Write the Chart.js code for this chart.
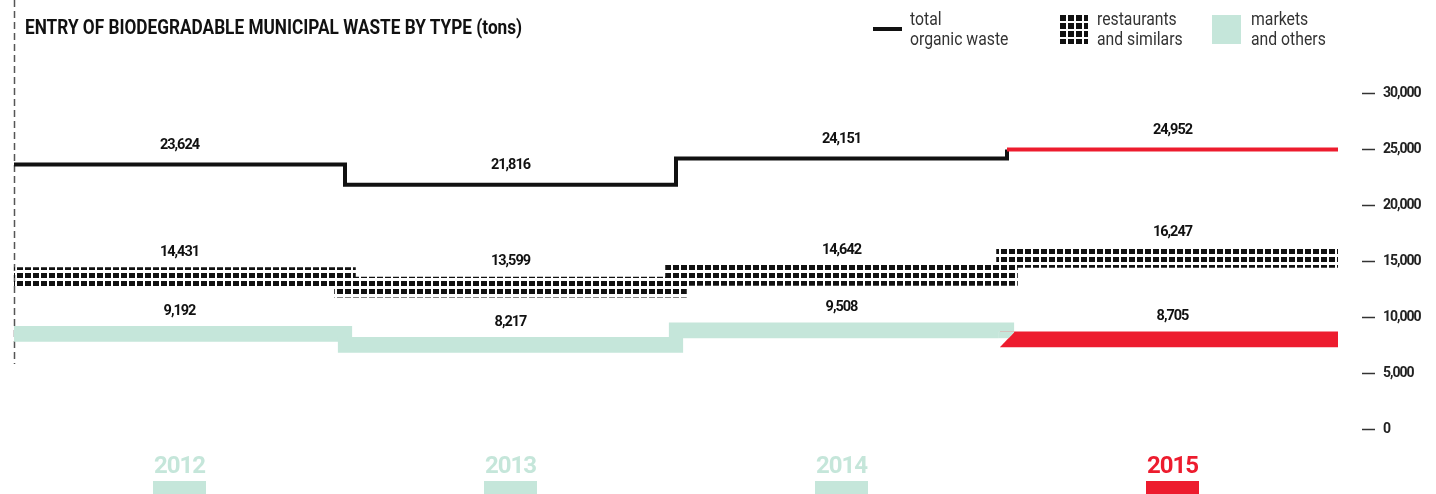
<!DOCTYPE html>
<html><head><meta charset="utf-8">
<script src="https://cdn.jsdelivr.net/npm/chart.js@4.4.1/dist/chart.umd.min.js"></script>
<style>
html,body{margin:0;padding:0;background:#fff;}
#wrap{position:relative;width:1436px;height:494px;overflow:hidden;font-family:Roboto,"Liberation Sans",sans-serif;}
canvas{position:absolute;left:0;top:0;}
.title{position:absolute;left:25px;top:17px;font-weight:bold;font-size:20px;line-height:21px;color:#111;white-space:nowrap;transform:scaleX(0.861);transform-origin:0 0;}
.lg{position:absolute;top:9px;font-size:19px;font-weight:400;line-height:20px;color:#333;white-space:nowrap;transform:scaleX(0.83);transform-origin:0 0;}
.ico{position:absolute;}
</style></head>
<body>
<div id="wrap">
<canvas id="c" width="1436" height="494"></canvas>
<div class="title">ENTRY OF BIODEGRADABLE MUNICIPAL WASTE BY TYPE (tons)</div>
<div class="ico" style="left:873px;top:27px;width:29px;height:4px;background:#111;"></div>
<div class="lg" style="left:910px;">total<br>organic waste</div>
<div class="ico" style="left:1060px;top:15px;width:28px;height:29px;background:linear-gradient(to right,transparent 0 6px,#fff 6px 8px) 0 0/8px 100%,linear-gradient(to bottom,transparent 0 6px,#fff 6px 8px) 0 0/100% 8px,#111;"></div>
<div class="lg" style="left:1097px;">restaurants<br>and similars</div>
<div class="ico" style="left:1212px;top:15px;width:29px;height:29px;background:#c5e6da;"></div>
<div class="lg" style="left:1251px;">markets<br>and others</div>
</div>
<script>
// ---- data ----
const years = ['2012', '2013', '2014', '2015'];
const totalOrganic = [23624, 21816, 24151, 24952];
const restaurants = [14431, 13599, 14642, 16247];
const markets = [9192, 8217, 9508, 8705];
const yTickValues = [0, 5000, 10000, 15000, 20000, 25000, 30000];

// ---- styles ----
const FONT = 'Roboto,"Liberation Sans",sans-serif';
const MINT = '#c5e6da';
const RED = '#ed1c2e';
const BLACK = '#111111';
const REST_BAND = 1850;   // band thickness (value units)
const MARK_BAND = 1400;

const fmt = v => Number(v).toLocaleString('en-US');

const cv = document.getElementById('c');
const ctx = cv.getContext('2d');

function squarePattern() {
  const t = document.createElement('canvas');
  t.width = 8; t.height = 8;
  const g = t.getContext('2d');
  g.fillStyle = BLACK;
  g.fillRect(1, 1, 6, 5);
  return ctx.createPattern(t, 'repeat');
}
const pat = squarePattern();

// step line points: one per year start + closing point at the end of the last year
const linePoints = totalOrganic.map((v, i) => ({x: i, y: v}));
linePoints.push({x: totalOrganic.length, y: totalOrganic[totalOrganic.length - 1]});

const decor = {
  id: 'decor',
  beforeDraw(chart) {
    chart.ctx.letterSpacing = '-1px';
  },
  beforeDatasetsDraw(chart) {
    const c = chart.ctx, a = chart.chartArea;
    c.save();
    c.strokeStyle = '#555';
    c.lineWidth = 1.5;
    c.setLineDash([7, 4]);
    c.beginPath();
    c.moveTo(a.left + 0.5, 0);
    c.lineTo(a.left + 0.5, 364);
    c.stroke();
    c.restore();
  },
  afterDatasetsDraw(chart) {
    const c = chart.ctx;
    // slanted start of the last markets band
    const mm = chart.getDatasetMeta(2);
    const r = mm.data[mm.data.length - 1], prev = mm.data[mm.data.length - 2];
    const left = r.x - r.width / 2, top = Math.min(r.y, r.base), bot = Math.max(r.y, r.base);
    const slant = 15;
    c.save();
    c.beginPath();
    c.moveTo(left - 1, top); c.lineTo(left + slant, top); c.lineTo(left - 1, bot + 1); c.closePath();
    c.clip();
    c.fillStyle = '#fff';
    c.fillRect(left - 2, top, slant + 2, bot - top + 2);
    c.fillStyle = MINT;
    c.fillRect(prev.x - prev.width / 2, Math.min(prev.y, prev.base), prev.width, Math.abs(prev.base - prev.y));
    c.restore();

    c.save();
    c.font = 'bold 14.5px ' + FONT;
    c.fillStyle = BLACK;
    c.textAlign = 'center';
    c.textBaseline = 'middle';
    // total line labels
    const lm = chart.getDatasetMeta(0);
    for (let i = 0; i < totalOrganic.length; i++) {
      const p0 = lm.data[i], p1 = lm.data[i + 1];
      c.fillText(fmt(totalOrganic[i]), (p0.x + p1.x) / 2, p0.y - 19);
    }
    [[1, restaurants], [2, markets]].forEach(([di, arr]) => {
      const m = chart.getDatasetMeta(di);
      m.data.forEach((el, i) => {
        const t = Math.min(el.y, el.base);
        c.fillText(fmt(arr[i]), el.x, t - 15);
      });
    });
    c.restore();
  },
  afterDraw(chart) {
    const c = chart.ctx, xs = chart.scales.x;
    c.save();
    years.forEach((y, i) => {
      const x = xs.getPixelForTick(i);
      c.fillStyle = i === years.length - 1 ? RED : MINT;
      c.fillRect(Math.round(x - 26.5), 481, 53, 13);
    });
    c.restore();
  }
};

new Chart(ctx, {
  type: 'bar',
  data: {
    labels: years,
    datasets: [
      {
        type: 'line',
        label: 'total organic waste',
        data: linePoints,
        xAxisID: 'x2', yAxisID: 'y',
        stepped: 'before',
        borderWidth: 4,
        borderColor: BLACK,
        borderCapStyle: 'butt',
        borderJoinStyle: 'miter',
        pointRadius: 0, pointHitRadius: 0,
        fill: false,
        segment: { borderColor: c => c.p0DataIndex >= 3 ? RED : BLACK },
        order: 0
      },
      {
        label: 'restaurants and similars',
        data: restaurants.map(v => [v - REST_BAND, v]),
        xAxisID: 'x', yAxisID: 'y',
        backgroundColor: restaurants.map(() => pat),
        grouped: false,
        categoryPercentage: 1,
        barPercentage: 1.065,
        borderWidth: 0,
        borderSkipped: false,
        order: 2
      },
      {
        label: 'markets and others',
        data: markets.map(v => [v - MARK_BAND, v]),
        xAxisID: 'x', yAxisID: 'y',
        backgroundColor: markets.map((v, i) => i === markets.length - 1 ? RED : MINT),
        grouped: false,
        categoryPercentage: 1,
        barPercentage: 1.043,
        borderWidth: 0,
        borderSkipped: false,
        order: 3
      }
    ]
  },
  options: {
    responsive: false,
    animation: false,
    events: [],
    layout: { padding: { top: 93, left: 14, right: 0, bottom: 0 } },
    plugins: { legend: { display: false }, title: { display: false }, tooltip: { enabled: false } },
    scales: {
      x: {
        type: 'category', position: 'bottom', offset: true,
        grid: { display: false, drawTicks: false }, border: { display: false },
        ticks: {
          padding: 24,
          font: { family: FONT, weight: 'bold', size: 24 },
          color: c => c.index === years.length - 1 ? RED : MINT
        },
        afterFit: s => { s.height = 65; }
      },
      x2: { type: 'linear', display: false, offset: false, min: 0, max: years.length },
      y: {
        type: 'linear', position: 'right', weight: 1, min: 0, max: 30000,
        afterBuildTicks: s => { s.ticks = yTickValues.map(v => ({ value: v })); },
        ticks: {
          callback: v => fmt(v),
          font: { family: FONT, weight: 'bold', size: 14 },
          color: '#222', padding: 8
        },
        grid: { drawOnChartArea: false, drawTicks: true, tickLength: 13, tickColor: '#333', tickWidth: 1.5 },
        border: { display: false },
        afterFit: s => { s.width = 74; }
      },
      yPad: {
        type: 'linear', position: 'right', weight: 0, display: true,
        ticks: { display: false }, grid: { display: false }, border: { display: false },
        afterFit: s => { s.width = 24; }
      }
    }
  },
  plugins: [decor]
});
</script>
</body></html>
